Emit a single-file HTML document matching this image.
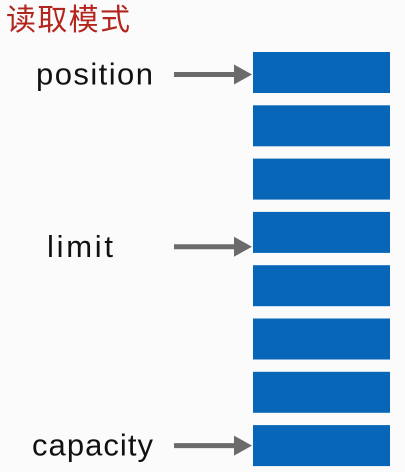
<!DOCTYPE html>
<html><head><meta charset="utf-8"><style>
body{margin:0;background:#fbfbfb;}
svg{display:block}
text{font-family:"Liberation Sans","Noto Sans CJK SC",sans-serif}
</style></head><body>
<svg width="405" height="472" viewBox="0 0 405 472">
<text x="6" y="30" font-size="30" fill="#b3261e" textLength="124">读取模式</text>
<g id="cells"></g>
<g id="ptrs"></g>
</svg>
<script>
const cellCount = 8;
const pointerNames = ["position","limit","capacity"];
const pointerIndex = [0,3,7];
const pointerFrac = [0.55,0.85,0.5];
const ns="http://www.w3.org/2000/svg";
const top0=52, step=53.3, h=41;
function cy(i){return top0+i*step;}
const cells=document.getElementById('cells');
for(let i=0;i<cellCount;i++){
  const r=document.createElementNS(ns,'rect');
  r.setAttribute('x',253);r.setAttribute('y',cy(i));r.setAttribute('width',137);r.setAttribute('height',h);
  r.setAttribute('fill','#0866b8');
  
  
  cells.appendChild(r);
}
const ptrs=document.getElementById('ptrs');
const textX={position:36,limit:47,capacity:32};
const textW={position:117,limit:66,capacity:121};
pointerNames.forEach((n,k)=>{
  const y=cy(pointerIndex[k])+h*pointerFrac[k];
  const t=document.createElementNS(ns,'text');
  t.setAttribute('x',textX[n]||36);t.setAttribute('y',y+10);t.setAttribute('font-size','31');t.setAttribute('fill','#111');
  t.setAttribute('textLength',textW[n]);
  t.textContent=n;
  
  
  ptrs.appendChild(t);
  const l=document.createElementNS(ns,'line');
  l.setAttribute('x1',174);l.setAttribute('x2',238);l.setAttribute('y1',y);l.setAttribute('y2',y);
  l.setAttribute('stroke','#6b6b6b');l.setAttribute('stroke-width','5');
  
  
  ptrs.appendChild(l);
  const p=document.createElementNS(ns,'polygon');
  p.setAttribute('points',`234,${y-10} 252,${y} 234,${y+10}`);
  p.setAttribute('fill','#6b6b6b');
  
  
  ptrs.appendChild(p);
});
</script>
</body></html>
